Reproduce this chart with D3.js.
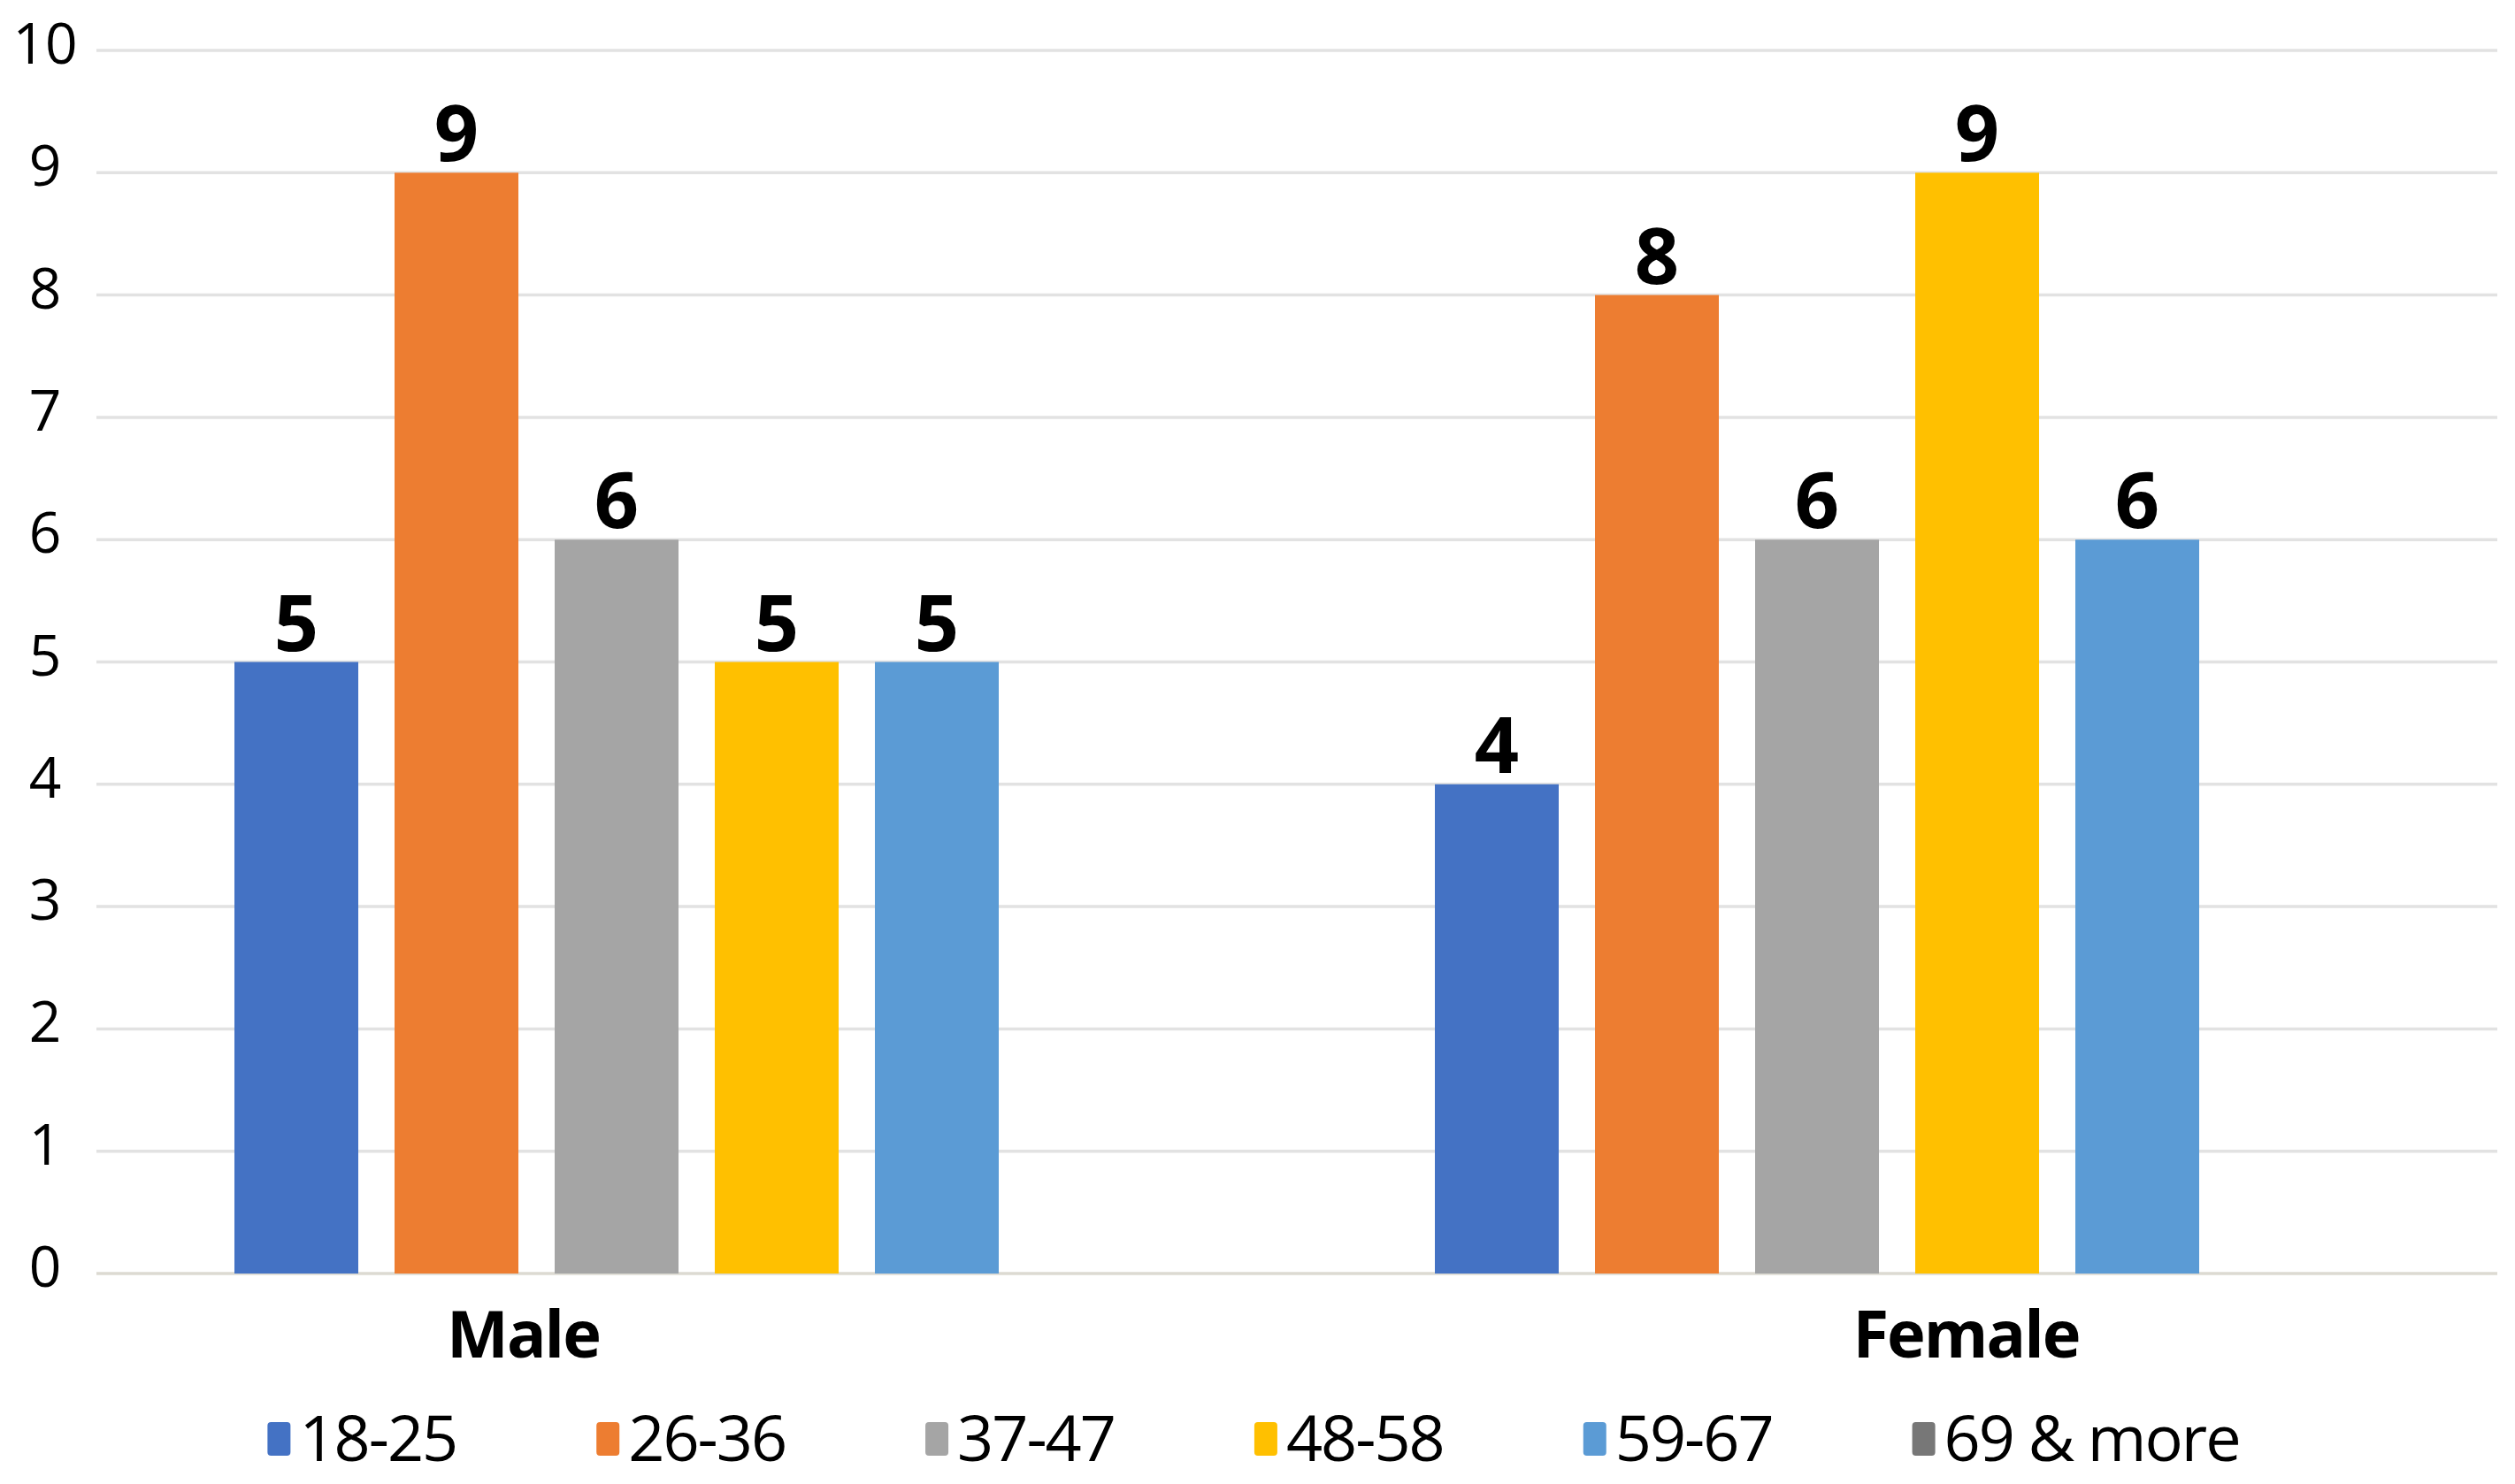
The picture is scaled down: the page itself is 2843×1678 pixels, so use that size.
<!DOCTYPE html>
<html>
<head>
<meta charset="utf-8">
<script src="https://cdn.jsdelivr.net/npm/d3@7"></script>
<style>
    body { margin: 0; background: #ffffff; }
    svg { display: block; }
    text { font-family: "Open Sans", "Noto Sans", sans-serif; fill: #000000; }
</style>
</head>
<body>
<div id="contenedor"></div>
<script>
const ANCHO = 2843;
const ALTO = 1678;

// datos
const grupos = ["Male", "Female"];
const edades = ["18-25", "26-36", "37-47", "48-58", "59-67", "69 & more"];
const valoresMale = [5, 9, 6, 5, 5, null];
const valoresFemale = [4, 8, 6, 9, 6, null];
const ticksY = [0, 1, 2, 3, 4, 5, 6, 7, 8, 9, 10];
const colores = ["#4472c4", "#ed7d31", "#a5a5a5", "#ffc000", "#5b9bd5", "#777777"];

const valores = [valoresMale, valoresFemale];

// area del grafico
const IZQ = 109, DER = 2823, ARRIBA = 57, ABAJO = 1440;
// las etiquetas de categoria no quedan centradas en el grupo en el original
const desplazamientoEtiqueta = [-196, 78];
const SEPARACION_LEYENDA = 158;

const $svg = d3.select("#contenedor")
    .append("svg")
    .attr("width", ANCHO)
    .attr("height", ALTO);

const y = d3.scaleLinear().domain([0, 10]).range([ABAJO, ARRIBA]);

const x0 = d3.scaleBand()
    .domain(grupos)
    .range([IZQ, DER])
    .paddingInner(0)
    .paddingOuter(0);

// 6 huecos por grupo, barras de 140 px con 41 px entre ellas
const x1 = d3.scaleBand()
    .domain(edades)
    .range([156, x0.bandwidth() - 156])
    .paddingInner(41 / 181)
    .paddingOuter(0);

// lineas de la cuadricula
$svg.append("g")
    .selectAll("line")
    .data(ticksY)
    .join("line")
    .attr("x1", IZQ)
    .attr("x2", DER)
    .attr("y1", d => y(d))
    .attr("y2", d => y(d))
    .attr("stroke", d => d === 0 ? "#dcdad2" : "#e2e2e2")
    .attr("stroke-width", 3.5);

// etiquetas del eje y
$svg.append("g")
    .selectAll("text")
    .data(ticksY)
    .join("text")
    .attr("x", 51)
    .attr("y", d => y(d) + 15)
    .attr("text-anchor", "middle")
    .attr("font-size", 64)
    .text(d => d);

// barras
const $grupos = $svg.append("g")
    .selectAll("g")
    .data(grupos)
    .join("g")
    .attr("transform", d => `translate(${x0(d)},0)`);

const filas = (g, i) => edades.map((e, j) => ({edad: e, valor: valores[i][j], color: colores[j]}))
    .filter(d => d.valor !== null);

$grupos.selectAll("rect")
    .data(filas)
    .join("rect")
    .attr("x", d => x1(d.edad))
    .attr("y", d => y(d.valor))
    .attr("width", x1.bandwidth())
    .attr("height", d => y(0) - y(d.valor))
    .attr("fill", d => d.color);

$grupos.selectAll("text")
    .data(filas)
    .join("text")
    .attr("x", d => x1(d.edad) + x1.bandwidth() / 2)
    .attr("y", d => y(d.valor) - 13)
    .attr("text-anchor", "middle")
    .attr("font-size", 88)
    .attr("font-weight", "bold")
    .text(d => d.valor);

// etiquetas de categoria
$svg.append("g")
    .selectAll("text")
    .data(grupos)
    .join("text")
    .attr("x", (d, i) => x0(d) + x0.bandwidth() / 2 + desplazamientoEtiqueta[i])
    .attr("y", 1535)
    .attr("text-anchor", "middle")
    .attr("font-size", 74)
    .attr("font-weight", "bold")
    .attr("letter-spacing", -2)
    .text(d => d);

// leyenda
const $leyenda = $svg.append("g");
const items = $leyenda.selectAll("g")
    .data(edades)
    .join("g");

items.append("rect")
    .attr("x", 0)
    .attr("y", 1608)
    .attr("width", 26)
    .attr("height", 38)
    .attr("rx", 4)
    .attr("fill", (d, i) => colores[i]);

items.append("text")
    .attr("x", 36)
    .attr("y", 1652)
    .attr("font-size", 72)
    .attr("letter-spacing", -2)
    .text(d => d);

// colocar los elementos uno tras otro y centrar la leyenda
let posX = 0;
const posiciones = [];
items.each(function () {
    const ancho = d3.select(this).select("text").node().getComputedTextLength() + 36;
    posiciones.push(posX);
    posX += ancho + SEPARACION_LEYENDA;
});
const totalLeyenda = posX - SEPARACION_LEYENDA;
const inicio = 1417 - totalLeyenda / 2;
items.attr("transform", (d, i) => `translate(${inicio + posiciones[i]},0)`);
</script>
</body>
</html>
